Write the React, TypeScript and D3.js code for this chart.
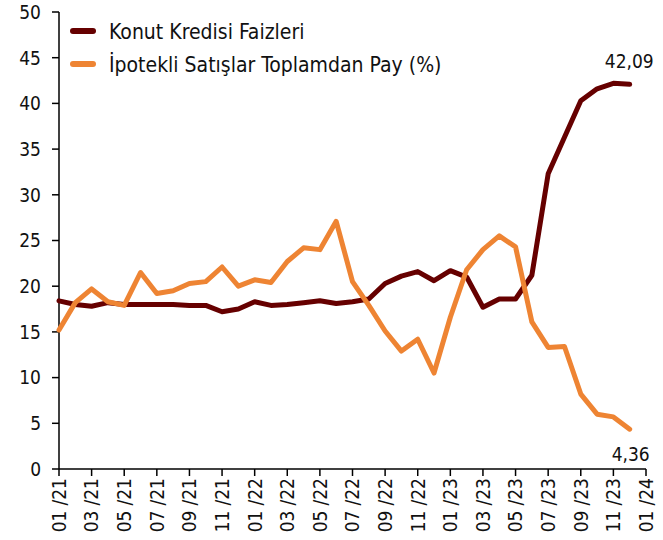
import React from 'react';
import * as d3 from 'd3';

// monthly, 01/21 .. 12/23
const months = d3.range(36);
const tickLabels = ['01/21', '03/21', '05/21', '07/21', '09/21', '11/21', '01/22', '03/22', '05/22', '07/22', '09/22', '11/22', '01/23', '03/23', '05/23', '07/23', '09/23', '11/23', '01/24'];
const yTicks = [0, 5, 10, 15, 20, 25, 30, 35, 40, 45, 50];

const konutKredisi = [18.4, 18.0, 17.8, 18.2, 18.0, 18.0, 18.0, 18.0, 17.9, 17.9, 17.2, 17.5, 18.3, 17.9, 18.0, 18.2, 18.4, 18.1, 18.3, 18.6, 20.3, 21.1, 21.6, 20.6, 21.7, 21.0, 17.7, 18.6, 18.6, 21.2, 32.3, 36.3, 40.3, 41.6, 42.2, 42.09];
const ipotekliPay = [15.2, 18.2, 19.7, 18.3, 17.9, 21.5, 19.2, 19.5, 20.3, 20.5, 22.1, 20.0, 20.7, 20.4, 22.7, 24.2, 24.0, 27.1, 20.5, 17.9, 15.1, 12.9, 14.2, 10.5, 16.6, 21.8, 24.0, 25.5, 24.3, 16.1, 13.3, 13.4, 8.2, 6.0, 5.7, 4.36];

const series = [
  { name: 'Konut Kredisi Faizleri', values: konutKredisi, color: '#660000' },
  { name: 'İpotekli Satışlar Toplamdan Pay (%)', values: ipotekliPay, color: '#EE8433' },
];

const font = '"DejaVu Sans Condensed", "DejaVu Sans", sans-serif';

export default function App() {
  const x = d3.scaleLinear().domain([0, 36]).range([59, 646]);
  const y = d3.scaleLinear().domain([0, 50]).range([469, 12]);
  const line = d3.line<number>().x((d, i) => x(months[i])).y(d => y(d));

  return (
    <svg width={663} height={540} style={{ position: 'absolute', left: 0, top: 0 }} fontFamily={font} fontStretch="condensed">
      <rect width={663} height={540} fill="#fff" />
      {/* y axis */}
      <line x1={x(0)} x2={x(0)} y1={y(50)} y2={y(0)} stroke="#000" strokeWidth={1.5} />
      {yTicks.map(t => (
        <g key={t}>
          <line x1={x(0) - 7} x2={x(0)} y1={y(t)} y2={y(t)} stroke="#000" strokeWidth={1.5} />
          <text x={x(0) - 18} y={y(t)} dy="0.36em" textAnchor="end" fontSize={19} fill="#111">{t}</text>
        </g>
      ))}
      {/* x axis */}
      <line x1={x(0)} x2={x(36)} y1={y(0)} y2={y(0)} stroke="#000" strokeWidth={1.5} />
      {tickLabels.map((lab, k) => {
        const xv = x(k * 2);
        const [mm, yy] = lab.split('/');
        return (
          <g key={lab}>
            <line x1={xv} x2={xv} y1={y(0)} y2={y(0) + 7} stroke="#000" strokeWidth={1.5} />
            <text transform={`translate(${xv},${y(0) + 9}) rotate(-90)`} dy="0.36em" textAnchor="end" fontSize={19} fill="#111">
              {mm}<tspan dx={5}>/{yy}</tspan>
            </text>
          </g>
        );
      })}
      {/* lines */}
      {series.map(s => (
        <path key={s.name} d={line(s.values) || ''} fill="none" stroke={s.color} strokeWidth={5} strokeLinejoin="round" strokeLinecap="round" />
      ))}
      {/* end labels */}
      <text x={x(35) + 24} y={y(konutKredisi[35]) - 16} textAnchor="end" fontSize={19} fill="#111">42,09</text>
      <text x={x(35) + 20} y={y(ipotekliPay[35]) + 32} textAnchor="end" fontSize={19} fill="#111">4,36</text>
      {/* legend */}
      {series.map((s, i) => (
        <g key={s.name} transform={`translate(0,${31 + i * 33})`}>
          <line x1={73} x2={93} y1={0} y2={0} stroke={s.color} strokeWidth={6} strokeLinecap="round" />
          <text x={109} y={0} dy="0.36em" fontSize={21} fill="#111">{s.name}</text>
        </g>
      ))}
    </svg>
  );
}
